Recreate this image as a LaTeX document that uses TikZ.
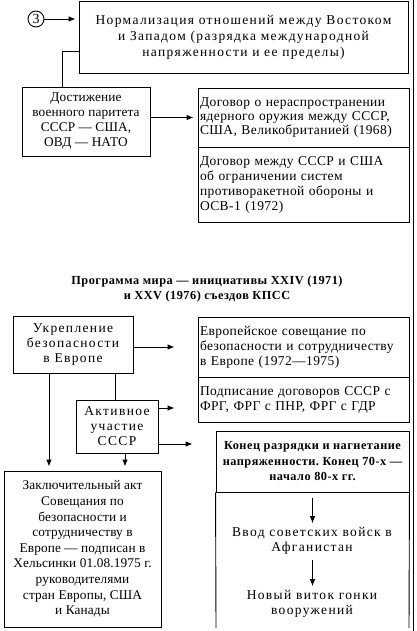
\documentclass[tikz,border=0pt]{standalone}
\usepackage{fontspec}
\setmainfont{Liberation Serif}
\usetikzlibrary{arrows.meta,calc}
\frenchspacing
\newcommand\bfnt[1]{\fontsize{13.5}{#1}\selectfont\addfontfeatures{LetterSpace=10}\frenchspacing}
\newcommand\rfnt[1]{\fontsize{13.5}{#1}\selectfont\addfontfeatures{LetterSpace=3}\frenchspacing}
\newcommand\nfnt[1]{\fontsize{13.3}{#1}\selectfont\addfontfeatures{LetterSpace=1}\frenchspacing}
\newcommand\boldfnt{\bfseries\fontsize{12.3}{15.5}\selectfont\addfontfeatures{LetterSpace=4}\frenchspacing}
\begin{document}
\begin{tikzpicture}[x=1pt,y=-1pt,
  box/.style={draw,line width=0.9pt,rectangle,inner sep=1pt,font={\bfnt{15}}},
  cbox/.style={box,align=center},
  lbox/.style={box,align=left,inner sep=2pt,text width=207pt,font={\rfnt{15}}},
  txt/.style={inner sep=0pt,align=center,font={\bfnt{15}}},
  ln/.style={line width=0.9pt},
  arr/.style={ln,-{Latex[length=7pt,width=5.5pt]}}]
\useasboundingbox (0,0) rectangle (417,631);
\fill[white] (0,0) rectangle (417,631);
% page border
\coordinate (pb1) at (413,0);
\coordinate (pb2) at (413,631);
\draw[ln] (pb1) -- (pb2);
% top
\node[draw,circle,line width=0.9pt,minimum size=16pt,inner sep=0pt,font=\fontsize{14}{14}\selectfont] (c3) at (36,19) {3};
\node[cbox,minimum width=329pt,minimum height=72pt,font={\bfnt{16}}] (top) at (243.5,37)
  {Нормализация отношений между Востоком\\и Западом (разрядка международной\\напряженности и ее пределы)};
\node[cbox,minimum width=128pt,minimum height=69pt,font={\nfnt{15}}] (dost) at (86,121.5)
  {Достижение\\военного паритета\\СССР — США,\\ОВД — НАТО};
\node[lbox,minimum width=211pt,minimum height=59pt,font={\rfnt{14}}] (r1a) at (303.5,117.5)
  {Договор о нераспространении\\ядерного оружия между СССР,\\США, Великобританией (1968)};
\node[lbox,minimum width=211pt,minimum height=75pt] (r1b) at (303.5,184.5)
  {Договор между СССР и США\\об ограничении систем\\противоракетной обороны и\\ОСВ-1 (1972)};
\draw[arr,shorten >=3pt] (c3.east) -- (c3.east -| top.west);
\draw[ln] ([yshift=-14pt]top.west) -| ([xshift=-24pt]dost.north);
\draw[arr,shorten >=4pt] (dost.east |- r1a.west) -- (r1a.west);
% title
\node[inner sep=0pt,align=center,font=\boldfnt] (title) at (207,289)
  {Программа мира — инициативы XXIV (1971)\\и XXV (1976) съездов КПСС};
% bottom part
\node[cbox,minimum width=120pt,minimum height=57pt] (ukr) at (73,344.5)
  {Укрепление\\безопасности\\в Европе};
\node[lbox,minimum width=211pt,minimum height=60pt] (r2a) at (303.5,347)
  {Европейское совещание по\\безопасности и сотрудничеству\\в Европе (1972—1975)};
\node[lbox,minimum width=211pt,minimum height=45pt] (r2b) at (303.5,399.5)
  {Подписание договоров СССР с\\ФРГ, ФРГ с ПНР, ФРГ с ГДР};
\node[cbox,minimum width=82pt,minimum height=53pt] (akt) at (117,426.5)
  {Активное\\участие\\СССР};
\node[cbox,minimum width=193pt,minimum height=61pt,font=\boldfnt] (kon) at (312.5,461.5)
  {Конец разрядки и нагнетание\\напряженности. Конец 70-х —\\начало 80-х гг.};
\coordinate (kbl) at (216,628);
\coordinate (kbr) at (409,628);
\draw[ln] (kon.south west) -- (kbl);
\draw[ln] (kon.south east) -- (kbr);
\node[txt] (vvod) at (312,541) {Ввод советских войск в\\Афганистан};
\node[txt] (novy) at (312,604) {Новый виток гонки\\вооружений};
\node[cbox,minimum width=157pt,minimum height=156pt,font={\nfnt{15.6}}] (zak) at (82.5,549)
  {Заключительный акт\\Совещания по\\безопасности и\\сотрудничеству в\\Европе — подписан в\\Хельсинки 01.08.1975 г.\\руководителями\\стран Европы, США\\и Канады};
% connectors
\draw[arr,shorten >=23pt] (ukr.east |- r2a.west) -- (r2a.west);
\draw[arr,shorten >=4pt] ([xshift=-24pt]ukr.south) -- ([xshift=-24pt]ukr.south |- zak.north);
\draw[ln] ([xshift=-2pt]akt.north) -- ([xshift=-2pt]akt.north |- ukr.south);
\draw[arr,shorten >=23pt] ([yshift=18.5pt]akt.east) -- ([yshift=18.5pt]akt.east -| r2b.west);
\draw[arr,shorten >=23pt] ([yshift=-17.5pt]akt.east) -- ([yshift=-17.5pt]akt.east -| kon.west);
\draw[arr,shorten >=4pt] ([xshift=8pt]akt.south) -- ([xshift=8pt]akt.south |- zak.north);
\draw[arr,shorten <=6pt,shorten >=4pt] (kon.south) -- (vvod.north -| kon.south);
\draw[arr,shorten <=5pt,shorten >=4pt] (vvod.south -| kon.south) -- (novy.north -| kon.south);
\end{tikzpicture}
\end{document}
